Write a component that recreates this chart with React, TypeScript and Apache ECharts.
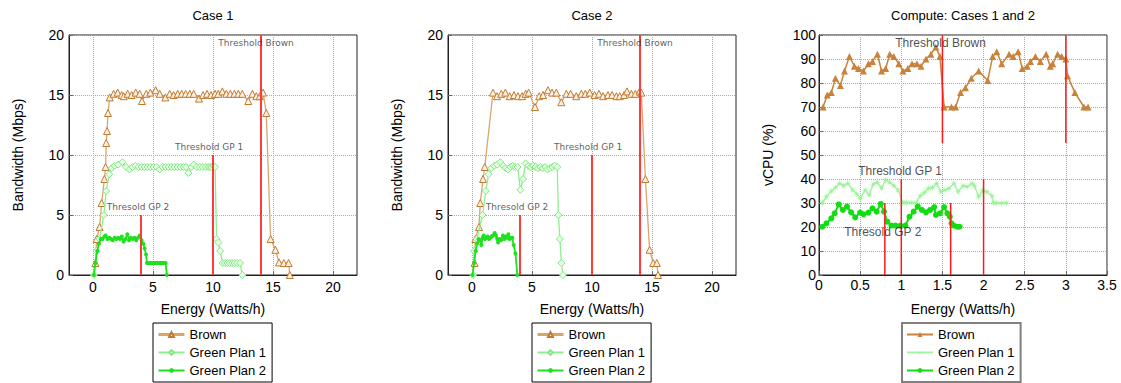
import React, { useEffect, useRef } from "react";
import * as echarts from "echarts";

// ---------- data (x = Energy Watts/h, y = value) ----------
const case1Brown: number[][] = [
  [0.2, 1], [0.3, 3], [0.55, 4], [0.72, 6], [0.95, 8], [1.05, 9], [1.1, 11], [1.17, 12], [1.25, 13.5], [1.39, 14.8],
  [1.72, 15.1], [2.06, 15.2], [2.39, 15.0], [2.56, 14.9], [2.89, 15.1], [3.22, 15.0], [3.56, 15.2], [3.89, 15.1],
  [4.08, 14.5], [4.44, 15.1], [4.78, 15.2], [5.22, 15.4], [5.56, 15.1], [6.03, 14.8], [6.39, 15.1], [6.72, 15.0],
  [7.06, 15.1], [7.39, 15.1], [7.72, 15.1], [8.06, 15.1], [8.39, 15.1], [8.83, 14.7], [9.17, 15.0], [9.5, 15.1],
  [9.83, 15.0], [10.17, 15.1], [10.44, 15.1], [10.78, 15.3], [11.11, 15.1], [11.44, 15.1], [11.78, 15.1],
  [12.11, 15.1], [12.44, 15.1], [12.94, 14.5], [13.28, 15.1], [13.61, 14.9], [13.89, 14.9], [14.17, 15.2],
  [14.44, 13.5], [14.8, 3.0], [15.2, 2.1], [15.5, 1.05], [15.9, 1.0], [16.3, 1.0], [16.4, 0],
];
const case1Gp1: number[][] = [
  [0.08, 0], [0.28, 2], [0.55, 3], [0.9, 5], [1.1, 7], [1.35, 8.4], [1.55, 8.9], [1.8, 9.1], [2.1, 9.2], [2.45, 9.4],
  [2.75, 9.0], [3.05, 8.8], [3.3, 9.0], [3.55, 9.1], [3.8, 9.0], [4.05, 9.0], [4.3, 9.0], [4.55, 9.0], [4.8, 9.0],
  [5.05, 9.0], [5.3, 9.0], [5.55, 8.8], [5.8, 9.0], [6.05, 9.0], [6.3, 9.0], [6.55, 9.0], [6.8, 9.0], [7.05, 9.0],
  [7.3, 9.0], [7.55, 9.0], [7.75, 9.0], [7.95, 8.5], [8.2, 9.0], [8.4, 9.2], [8.65, 9.0], [8.9, 9.0], [9.15, 9.0],
  [9.4, 9.0], [9.6, 9.0], [9.75, 9.0], [9.9, 9.0], [10.05, 9.1], [10.17, 9.0], [10.3, 3.0], [10.45, 2.7], [10.6, 2.0],
  [10.8, 1.0], [11.0, 1.0], [11.2, 1.0], [11.4, 1.0], [11.6, 1.0], [11.8, 1.0], [12.0, 1.0], [12.25, 1.0], [12.45, 0],
];
const case1Gp2: number[][] = [
  [0.08, 0], [0.2, 1], [0.35, 2], [0.5, 2.6], [0.64, 3.0], [0.8, 3.0], [0.95, 3.2], [1.06, 3.3], [1.2, 3.0], [1.35, 3.1],
  [1.5, 3.0], [1.65, 2.9], [1.8, 3.1], [1.95, 3.0], [2.1, 3.1], [2.25, 3.0], [2.4, 3.2], [2.55, 2.8], [2.7, 3.0],
  [2.86, 3.4], [3.0, 2.9], [3.15, 3.1], [3.3, 3.0], [3.45, 3.1], [3.6, 2.9], [3.75, 3.1], [3.9, 3.3], [4.05, 2.9],
  [4.2, 2.6], [4.3, 2.2], [4.42, 1.7], [4.5, 1.0], [4.6, 1.0], [4.7, 1.0], [4.8, 1.0], [4.9, 1.0], [5.0, 1.0],
  [5.1, 1.0], [5.2, 1.0], [5.3, 1.0], [5.4, 1.0], [5.5, 1.0], [5.6, 1.0], [5.7, 1.0], [5.8, 1.0], [5.9, 1.0],
  [6.05, 1.0], [6.15, 0],
];

const case2Brown: number[][] = [
  [0.22, 1], [0.28, 3], [0.58, 4], [0.69, 6], [0.92, 8], [1.06, 9], [1.75, 15.2], [2.08, 14.9], [2.44, 15.1],
  [2.78, 15.2], [3.14, 14.9], [3.5, 15.0], [3.83, 14.9], [4.17, 14.9], [4.47, 15.1], [4.72, 15.2], [5.25, 14.0],
  [5.6, 14.9], [5.92, 15.0], [6.33, 15.4], [6.67, 15.2], [7.03, 15.2], [7.44, 14.4], [7.86, 15.1], [8.22, 15.1],
  [8.69, 14.9], [9.11, 15.1], [9.44, 15.1], [9.81, 15.2], [10.22, 15.0], [10.58, 15.1], [10.92, 14.9], [11.33, 15.0],
  [11.67, 15.0], [12.03, 14.9], [12.31, 14.9], [12.67, 15.0], [12.92, 15.3], [13.28, 15.1], [13.61, 15.1],
  [13.97, 15.3], [14.11, 15.2], [14.45, 8.0], [14.8, 2.1], [15.1, 1.0], [15.4, 1.0], [15.5, 0],
];
const case2Gp1: number[][] = [
  [0.1, 0], [0.17, 2], [0.4, 3], [0.88, 5], [1.15, 7], [1.38, 8.4], [1.6, 8.9], [1.85, 9.1], [2.1, 9.2], [2.36, 9.4],
  [2.6, 9.1], [2.8, 8.9], [3.0, 8.8], [3.2, 9.0], [3.4, 9.1], [3.6, 9.0], [3.8, 9.0], [4.03, 7.1], [4.25, 8.0],
  [4.47, 9.3], [4.7, 9.1], [4.9, 9.0], [5.1, 9.1], [5.3, 9.0], [5.5, 8.9], [5.7, 9.0], [5.9, 8.9], [6.1, 9.0],
  [6.3, 8.8], [6.5, 8.9], [6.7, 9.0], [6.9, 9.1], [7.1, 9.0], [7.2, 5.0], [7.32, 3.0], [7.45, 1.0], [7.58, 0],
];
const case2Gp2: number[][] = [
  [0.05, 0], [0.17, 1], [0.3, 2], [0.42, 2.6], [0.53, 3.0], [0.65, 2.9], [0.78, 2.5], [0.88, 3.1], [0.97, 3.3],
  [1.08, 3.0], [1.19, 3.1], [1.3, 3.2], [1.42, 3.0], [1.53, 3.1], [1.64, 3.2], [1.75, 3.3], [1.89, 3.5], [2.0, 3.3],
  [2.1, 3.0], [2.17, 2.7], [2.3, 3.0], [2.42, 2.9], [2.58, 3.3], [2.7, 3.0], [2.81, 3.2], [2.92, 3.1], [3.03, 3.4],
  [3.14, 3.0], [3.25, 3.1], [3.36, 3.1], [3.47, 2.5], [3.62, 1.8], [3.78, 0],
];

const computeBrown: number[][] = [
  [0.05, 70], [0.1, 75], [0.15, 76], [0.2, 82], [0.26, 79], [0.31, 85], [0.37, 91], [0.43, 87], [0.48, 86],
  [0.54, 85], [0.6, 88], [0.65, 89], [0.71, 92], [0.76, 85], [0.81, 86], [0.86, 92], [0.91, 91], [0.97, 88],
  [1.02, 85], [1.08, 86], [1.13, 88], [1.19, 88], [1.24, 87], [1.3, 90], [1.36, 92], [1.42, 95], [1.47, 91],
  [1.52, 70], [1.61, 70], [1.66, 70], [1.72, 76], [1.78, 78], [1.85, 82], [1.94, 85], [2.05, 81], [2.11, 91],
  [2.16, 93], [2.22, 88], [2.31, 92], [2.36, 91], [2.42, 93], [2.47, 86], [2.53, 87], [2.57, 89], [2.63, 91],
  [2.69, 89], [2.76, 92], [2.81, 87], [2.84, 88], [2.9, 92], [2.95, 91], [3.0, 90], [3.02, 83], [3.11, 76],
  [3.22, 70], [3.27, 70],
];
const computeGp1: number[][] = [
  [0.04, 30], [0.09, 32.6], [0.15, 35], [0.2, 36.4], [0.25, 38.2], [0.3, 37.2], [0.35, 38.2], [0.41, 35.4],
  [0.46, 33.8], [0.5, 31.9], [0.56, 35.4], [0.61, 33.3], [0.66, 37.9], [0.71, 38.6], [0.76, 36.1], [0.81, 39.6],
  [0.86, 38.6], [0.91, 37.2], [0.96, 35.4], [1.02, 30.1], [1.06, 30.1], [1.12, 30.1], [1.18, 30.1], [1.23, 33],
  [1.28, 34.3], [1.33, 36.1], [1.38, 36.4], [1.43, 38.2], [1.48, 34.7], [1.53, 35.4], [1.58, 36.1], [1.64, 38.2],
  [1.69, 34.7], [1.75, 37.1], [1.8, 36.8], [1.86, 38.2], [1.89, 37.1], [1.94, 32.6], [1.99, 35.1], [2.04, 34.7],
  [2.1, 33], [2.12, 30], [2.16, 30], [2.22, 30], [2.28, 30],
];
const computeGp2: number[][] = [
  [0.04, 20.1], [0.09, 21.5], [0.15, 23.6], [0.19, 25.7], [0.24, 29.4], [0.29, 27.1], [0.34, 28.5], [0.39, 26.1],
  [0.44, 24.0], [0.5, 26.0], [0.54, 25.3], [0.6, 26.0], [0.65, 27.8], [0.7, 26.4], [0.75, 29.6], [0.79, 26.4],
  [0.83, 22.2], [0.88, 20.6], [0.93, 20.6], [0.99, 20.6], [1.05, 20.6], [1.1, 24.3], [1.15, 26.4], [1.2, 28.5],
  [1.25, 27.1], [1.3, 26.1], [1.35, 27.1], [1.4, 28.3], [1.42, 25.0], [1.47, 25.7], [1.52, 28.3], [1.56, 25.7],
  [1.59, 24.3], [1.61, 21.5], [1.64, 20.6], [1.68, 20.1], [1.71, 20.1],
];

const caseXTicks = [0, 5, 10, 15, 20];
const caseThresholdX = [4, 10, 14];
const caseThresholdTop = [5, 10, 20];
const computeThresholdX = [1.5, 3, 1, 2, 0.8, 1.6];
const computeThresholdFrom = [55, 55, 0, 0, 0, 0];
const computeThresholdTo = [100, 100, 40, 40, 30, 30];
const thresholdLabels = ["Threshold Brown", "Threshold GP 1", "Thresold GP 2"];
const caseLabelAt = [[10.4, 19.3], [6.8, 10.7], [1.1, 5.7]];
const computeLabelAt = [[0.92, 96.7], [0.47, 43.3], [0.3, 17.9]];
const legendNames = ["Brown", "Green Plan 1", "Green Plan 2"];
const panelTitles = ["Case 1", "Case 2", "Compute: Cases 1 and 2"];

// ---------- styling ----------
const GRID_LEFT = [69, 448, 819];
const GRID_TOP = 35;
const GRID_W = 288;
const GRID_H = 240;
const FONT = "Liberation Sans, Arial, sans-serif";

function starPath(): string {
  const pts: string[] = [];
  for (let i = 0; i < 16; i++) {
    const a = (i * Math.PI) / 8;
    const r = i % 2 === 0 ? 10 : 2.2;
    pts.push(`${(r * Math.cos(a)).toFixed(2)},${(r * Math.sin(a)).toFixed(2)}`);
  }
  return "path://M" + pts.join("L") + "Z";
}

function buildOption(): any {
  const STAR = starPath();
  const grid = GRID_LEFT.map((left) => ({
    left, top: GRID_TOP, width: GRID_W, height: GRID_H,
    show: true, borderColor: "#222", borderWidth: 1, backgroundColor: "transparent",
  }));

  const splitLine = { show: true, lineStyle: { type: "dotted", color: "#aaa", width: 1 } };
  const axisLine = { show: true, onZero: false, lineStyle: { color: "#222", width: 1 } };
  const nameStyle = { fontSize: 14, color: "#000", fontFamily: FONT };

  const xAxis: any[] = [0, 1].map((i) => ({
    type: "value", gridIndex: i, min: -2, max: 22,
    axisLabel: { customValues: caseXTicks, fontSize: 14, color: "#000", margin: 5, fontFamily: FONT },
    axisTick: { customValues: caseXTicks, inside: true, length: 4, lineStyle: { color: "#666" } },
    splitLine, axisLine,
    name: "Energy (Watts/h)", nameLocation: "middle", nameGap: 27, nameTextStyle: nameStyle,
  }));
  xAxis.push({
    type: "value", gridIndex: 2, min: 0, max: 3.5, interval: 0.5,
    axisLabel: { fontSize: 14, color: "#000", margin: 3, fontFamily: FONT },
    axisTick: { inside: true, length: 4, lineStyle: { color: "#666" } },
    splitLine, axisLine,
    name: "Energy (Watts/h)", nameLocation: "middle", nameGap: 27, nameTextStyle: nameStyle,
  });

  const yAxis: any[] = [0, 1].map((i) => ({
    type: "value", gridIndex: i, min: 0, max: 20, interval: 5,
    axisLabel: { fontSize: 14, color: "#000", margin: 5, fontFamily: FONT },
    axisTick: { inside: true, length: 4, lineStyle: { color: "#666" } },
    splitLine, axisLine,
    name: "Bandwidth (Mbps)", nameLocation: "middle", nameGap: 44, nameTextStyle: nameStyle,
  }));
  yAxis.push({
    type: "value", gridIndex: 2, min: 0, max: 100, interval: 10,
    axisLabel: { fontSize: 14, color: "#000", margin: 3, fontFamily: FONT },
    axisTick: { inside: true, length: 4, lineStyle: { color: "#666" } },
    splitLine, axisLine,
    name: "vCPU (%)", nameLocation: "middle", nameGap: 44, nameTextStyle: nameStyle,
  });

  const series: any[] = [];
  const caseData = [
    [case1Brown, case1Gp1, case1Gp2],
    [case2Brown, case2Gp1, case2Gp2],
  ];
  caseData.forEach((sets, i) => {
    const p = i + 1;
    series.push({
      type: "line", name: `Brown|${p}`, xAxisIndex: i, yAxisIndex: i, data: sets[0],
      symbol: "triangle", symbolSize: 7, z: 2,
      lineStyle: { color: "#d9a56b", width: 1.3 },
      itemStyle: { color: "#fdf1e2", borderColor: "#c27a32", borderWidth: 1 },
    });
    series.push({
      type: "line", name: `Green Plan 1|${p}`, xAxisIndex: i, yAxisIndex: i, data: sets[1],
      symbol: "diamond", symbolSize: 7, z: 3,
      lineStyle: { color: "#8cf08c", width: 1.3 },
      itemStyle: { color: "#eaffea", borderColor: "#80ea80", borderWidth: 1 },
    });
    series.push({
      type: "line", name: `Green Plan 2|${p}`, xAxisIndex: i, yAxisIndex: i, data: sets[2],
      symbol: "circle", symbolSize: 4, z: 4,
      lineStyle: { color: "#1fe01f", width: 1.8 },
      itemStyle: { color: "#1fe01f", borderWidth: 0 },
    });
    caseThresholdX.forEach((x, k) => {
      series.push({
        type: "line", xAxisIndex: i, yAxisIndex: i, data: [[x, 0], [x, caseThresholdTop[k]]],
        symbol: "none", silent: true, z: 5, lineStyle: { color: "#ff3a3a", width: 2 },
      });
    });
    thresholdLabels.forEach((t, k) => {
      series.push({
        type: "scatter", xAxisIndex: i, yAxisIndex: i, data: [caseLabelAt[k]], symbolSize: 1, silent: true, z: 6,
        itemStyle: { color: "rgba(0,0,0,0)" },
        label: { show: true, position: "right", distance: 0, formatter: t, fontSize: 9, fontFamily: "DejaVu Sans", color: "#333" },
      });
    });
  });

  series.push({
    type: "line", name: "Brown|3", xAxisIndex: 2, yAxisIndex: 2, data: computeBrown,
    symbol: "triangle", symbolSize: 7, z: 2,
    lineStyle: { color: "#c8823a", width: 1.5 },
    itemStyle: { color: "#c8823a", borderWidth: 0 },
  });
  series.push({
    type: "line", name: "Green Plan 1|3", xAxisIndex: 2, yAxisIndex: 2, data: computeGp1,
    symbol: STAR, symbolSize: 9, z: 3,
    lineStyle: { color: "#a6f3a6", width: 1.5 },
    itemStyle: { color: "#9cf09c", borderWidth: 0 },
  });
  series.push({
    type: "line", name: "Green Plan 2|3", xAxisIndex: 2, yAxisIndex: 2, data: computeGp2,
    symbol: "circle", symbolSize: 6, z: 4,
    lineStyle: { color: "#12dd12", width: 2 },
    itemStyle: { color: "#12dd12", borderWidth: 0 },
  });
  computeThresholdX.forEach((x, k) => {
    series.push({
      type: "line", xAxisIndex: 2, yAxisIndex: 2,
      data: [[x, computeThresholdFrom[k]], [x, computeThresholdTo[k]]],
      symbol: "none", silent: true, z: 5, lineStyle: { color: "#ff1a1a", width: 1.5 },
    });
  });
  thresholdLabels.forEach((t, k) => {
    series.push({
      type: "scatter", xAxisIndex: 2, yAxisIndex: 2, data: [computeLabelAt[k]], symbolSize: 1, silent: true, z: 6,
      itemStyle: { color: "rgba(0,0,0,0)" },
      label: { show: true, position: "right", distance: 0, formatter: t, fontSize: 12, fontFamily: FONT, color: "#222" },
    });
  });

  const legendLeft = [153, 532, 902];
  const legend = [1, 2, 3].map((p, idx) => ({
    left: legendLeft[idx], top: 323, orient: "vertical",
    selectedMode: false,
    data: legendNames.map((n, k) => {
      const item: any = { name: `${n}|${p}` };
      if (p < 3 && k === 0) item.lineStyle = { width: 3 };
      return item;
    }),
    formatter: (name: string) => name.split("|")[0],
    borderColor: p === 3 ? "#808080" : "#000",
    borderWidth: p === 3 ? 2 : 1,
    padding: [4, 6, 4, 4],
    itemGap: 3,
    itemWidth: 26,
    itemHeight: 6,
    textStyle: { fontSize: 13, color: "#000", fontFamily: FONT, lineHeight: 15 },
  }));

  const graphic = panelTitles.map((t, i) => ({
    type: "text", x: GRID_LEFT[i] + GRID_W / 2, y: 15,
    style: { text: t, align: "center", verticalAlign: "middle", fontSize: 13, fill: "#000", fontFamily: FONT },
  }));

  return {
    animation: false,
    backgroundColor: "#fff",
    textStyle: { fontFamily: FONT },
    grid, xAxis, yAxis, series, legend, graphic,
  };
}

export default function App() {
  const ref = useRef<HTMLDivElement>(null);
  useEffect(() => {
    if (!ref.current) return;
    const chart = echarts.init(ref.current, undefined, { renderer: "svg" });
    chart.setOption(buildOption());
    return () => chart.dispose();
  }, []);
  return (
    <div
      ref={ref}
      style={{ position: "fixed", left: 0, top: 0, width: 1121, height: 383, background: "#fff" }}
    />
  );
}
